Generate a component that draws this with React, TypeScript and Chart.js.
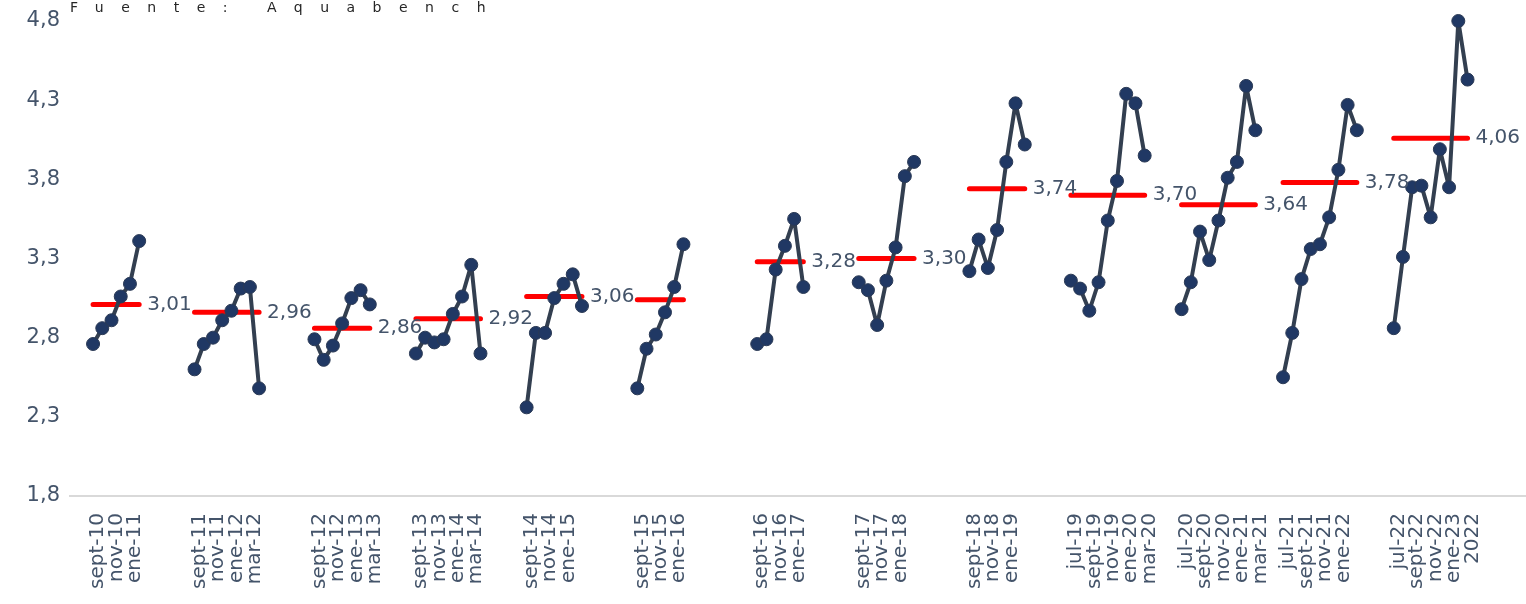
import React, { useEffect, useRef } from "react";
import { Chart, registerables } from "chart.js";

Chart.register(...registerables);

// ---- data -------------------------------------------------------------
const categories: string[] = [
  "sept-10", "oct-10", "nov-10", "dic-10", "ene-11", "feb-11",
  "sept-11", "oct-11", "nov-11", "dic-11", "ene-12", "feb-12", "mar-12", "abr-12",
  "sept-12", "oct-12", "nov-12", "dic-12", "ene-13", "feb-13", "mar-13",
  "sept-13", "oct-13", "nov-13", "dic-13", "ene-14", "feb-14", "mar-14", "abr-14",
  "sept-14", "oct-14", "nov-14", "dic-14", "ene-15", "feb-15", "mar-15",
  "sept-15", "oct-15", "nov-15", "dic-15", "ene-16", "feb-16",
  "sept-16", "oct-16", "nov-16", "dic-16", "ene-17", "feb-17",
  "sept-17", "oct-17", "nov-17", "dic-17", "ene-18", "feb-18", "mar-18",
  "sept-18", "oct-18", "nov-18", "dic-18", "ene-19", "feb-19", "mar-19",
  "jul-19", "ago-19", "sept-19", "oct-19", "nov-19", "dic-19", "ene-20", "feb-20", "mar-20",
  "jul-20", "ago-20", "sept-20", "oct-20", "nov-20", "dic-20", "ene-21", "feb-21", "mar-21",
  "jul-21", "ago-21", "sept-21", "oct-21", "nov-21", "dic-21", "ene-22", "feb-22", "mar-22",
  "jul-22", "ago-22", "sept-22", "oct-22", "nov-22", "dic-22", "ene-23", "feb-23", "mar-23",
];

const tickLabels: string[] = [
  "sept-10", "", "nov-10", "", "ene-11", "",
  "sept-11", "", "nov-11", "", "ene-12", "", "mar-12", "",
  "sept-12", "", "nov-12", "", "ene-13", "", "mar-13",
  "sept-13", "", "nov-13", "", "ene-14", "", "mar-14", "",
  "sept-14", "", "nov-14", "", "ene-15", "", "",
  "sept-15", "", "nov-15", "", "ene-16", "",
  "sept-16", "", "nov-16", "", "ene-17", "",
  "sept-17", "", "nov-17", "", "ene-18", "", "",
  "sept-18", "", "nov-18", "", "ene-19", "", "",
  "jul-19", "", "sept-19", "", "nov-19", "", "ene-20", "", "mar-20",
  "jul-20", "", "sept-20", "", "nov-20", "", "ene-21", "", "mar-21",
  "jul-21", "", "sept-21", "", "nov-21", "", "ene-22", "", "",
  "jul-22", "", "sept-22", "", "nov-22", "", "ene-23", "", "2022",
];

const values: number[] = [
  2.76, 2.86, 2.91, 3.06, 3.14, 3.41,
  2.60, 2.76, 2.80, 2.91, 2.97, 3.11, 3.12, 2.48,
  2.79, 2.66, 2.75, 2.89, 3.05, 3.10, 3.01,
  2.70, 2.80, 2.77, 2.79, 2.95, 3.06, 3.26, 2.70,
  2.36, 2.83, 2.83, 3.05, 3.14, 3.20, 3.00,
  2.48, 2.73, 2.82, 2.96, 3.12, 3.39,
  2.76, 2.79, 3.23, 3.38, 3.55, 3.12,
  3.15, 3.10, 2.88, 3.16, 3.37, 3.82, 3.91,
  3.22, 3.42, 3.24, 3.48, 3.91, 4.28, 4.02,
  3.16, 3.11, 2.97, 3.15, 3.54, 3.79, 4.34, 4.28, 3.95,
  2.98, 3.15, 3.47, 3.29, 3.54, 3.81, 3.91, 4.39, 4.11,
  2.55, 2.83, 3.17, 3.36, 3.39, 3.56, 3.86, 4.27, 4.11,
  2.86, 3.31, 3.75, 3.76, 3.56, 3.99, 3.75, 4.80, 4.43,
];

const groupSizes: number[] = [6, 8, 7, 8, 7, 6, 6, 7, 7, 9, 9, 9, 9];
// empty categories before each group, last entry = empty categories after the last group
const gapsBefore: number[] = [2, 5, 5, 4, 4, 5, 7, 5, 5, 4, 3, 2, 3, 6];

const averages: number[] = [3.01, 2.96, 2.86, 2.92, 3.06, 3.04, 3.28, 3.3, 3.74, 3.7, 3.64, 3.78, 4.06];
const averageLabels: string[] = ["3,01", "2,96", "2,86", "2,92", "3,06", "", "3,28", "3,30", "3,74", "3,70", "3,64", "3,78", "4,06"];

const yMin = 1.8;
const yMax = 4.8;
const yStep = 0.5;

const sourceText = "Fuente: Aquabench";

// ---- build category table --------------------------------------------
const fullLabels: string[] = [];
const fullTicks: string[] = [];
const fullValues: (number | null)[] = [];
const fullAvg: (number | null)[] = [];
const groupLastIndex: number[] = [];
{
  let p = 0;
  const pushGap = (n: number) => {
    for (let k = 0; k < n; k++) {
      fullLabels.push("_" + fullLabels.length);
      fullTicks.push("");
      fullValues.push(null);
      fullAvg.push(null);
    }
  };
  groupSizes.forEach((n, g) => {
    pushGap(gapsBefore[g]);
    for (let k = 0; k < n; k++) {
      fullLabels.push(categories[p]);
      fullTicks.push(tickLabels[p]);
      fullValues.push(values[p]);
      fullAvg.push(averages[g]);
      p++;
    }
    groupLastIndex.push(fullLabels.length - 1);
  });
  pushGap(gapsBefore[gapsBefore.length - 1]);
}

const FONT = "'DejaVu Sans', sans-serif";
const CANVAS_W = 1535;
const CANVAS_H = 604;

export default function App() {
  const ref = useRef<HTMLCanvasElement | null>(null);

  useEffect(() => {
    if (!ref.current) return;

    const avgLabelPlugin = {
      id: "avgLabels",
      afterDatasetsDraw(chart: any) {
        const meta = chart.getDatasetMeta(1);
        const ctx = chart.ctx;
        ctx.save();
        ctx.font = `20px ${FONT}`;
        ctx.fillStyle = "#44546a";
        ctx.textAlign = "left";
        ctx.textBaseline = "middle";
        groupLastIndex.forEach((idx, g) => {
          const txt = averageLabels[g];
          if (!txt) return;
          const el = meta.data[idx];
          if (!el) return;
          ctx.fillText(txt, el.x + 8, el.y);
        });
        ctx.restore();
      },
    };

    const sourcePlugin = {
      id: "sourceText",
      afterDraw(chart: any) {
        const ctx = chart.ctx;
        ctx.save();
        ctx.font = `14px ${FONT}`;
        (ctx as any).letterSpacing = "17.5px";
        ctx.fillStyle = "#262626";
        ctx.textAlign = "left";
        ctx.textBaseline = "alphabetic";
        ctx.fillText(sourceText, 70, 12);
        ctx.restore();
      },
    };

    const chart = new Chart(ref.current, {
      type: "line",
      data: {
        labels: fullLabels,
        datasets: [
          {
            label: "Precio",
            data: fullValues,
            borderColor: "#333f50",
            borderWidth: 4,
            borderJoinStyle: "round",
            borderCapStyle: "round",
            pointRadius: 6.5,
            pointBackgroundColor: "#203864",
            pointBorderColor: "#2b3a55",
            pointBorderWidth: 1,
            spanGaps: false,
            tension: 0,
            clip: false,
          } as any,
          {
            label: "Promedio",
            data: fullAvg,
            borderColor: "#ff0000",
            borderWidth: 5,
            borderCapStyle: "round",
            pointRadius: 0,
            spanGaps: false,
            tension: 0,
          } as any,
        ],
      },
      options: {
        responsive: false,
        animation: false,
        devicePixelRatio: 1,
        layout: { padding: { top: 21, left: 0, right: 0, bottom: 0 } },
        plugins: {
          legend: { display: false },
          tooltip: { enabled: false },
          title: { display: false },
        },
        scales: {
          x: {
            type: "category",
            offset: true,
            grid: { display: false, drawTicks: false },
            border: { display: true, color: "#d9d9d9", width: 2 },
            ticks: {
              autoSkip: false,
              maxRotation: 90,
              minRotation: 90,
              padding: 17,
              labelOffset: 5,
              color: "#44546a",
              font: { family: FONT, size: 20 },
              callback: (_v: any, i: number) => fullTicks[i],
            },
            afterFit: (s: any) => {
              s.height = CANVAS_H - 496;
              s.paddingLeft = 0;
              s.paddingRight = 0;
            },
          },
          y: {
            min: yMin,
            max: yMax,
            grid: { display: false, drawTicks: false },
            border: { display: false },
            ticks: {
              stepSize: yStep,
              padding: 10,
              color: "#44546a",
              font: { family: FONT, size: 21 },
              callback: (v: any) => Number(v).toFixed(1).replace(".", ","),
            },
            afterFit: (s: any) => {
              s.width = 70;
              s.paddingTop = 0;
              s.paddingBottom = 0;
            },
          },
        },
      } as any,
      plugins: [avgLabelPlugin, sourcePlugin],
    });

    return () => chart.destroy();
  }, []);

  return (
    <div
      style={{
        position: "fixed",
        left: 0,
        top: 0,
        width: 1526,
        height: 604,
        overflow: "hidden",
        background: "#fff",
      }}
    >
      <canvas ref={ref} width={CANVAS_W} height={CANVAS_H} style={{ display: "block" }} />
    </div>
  );
}
